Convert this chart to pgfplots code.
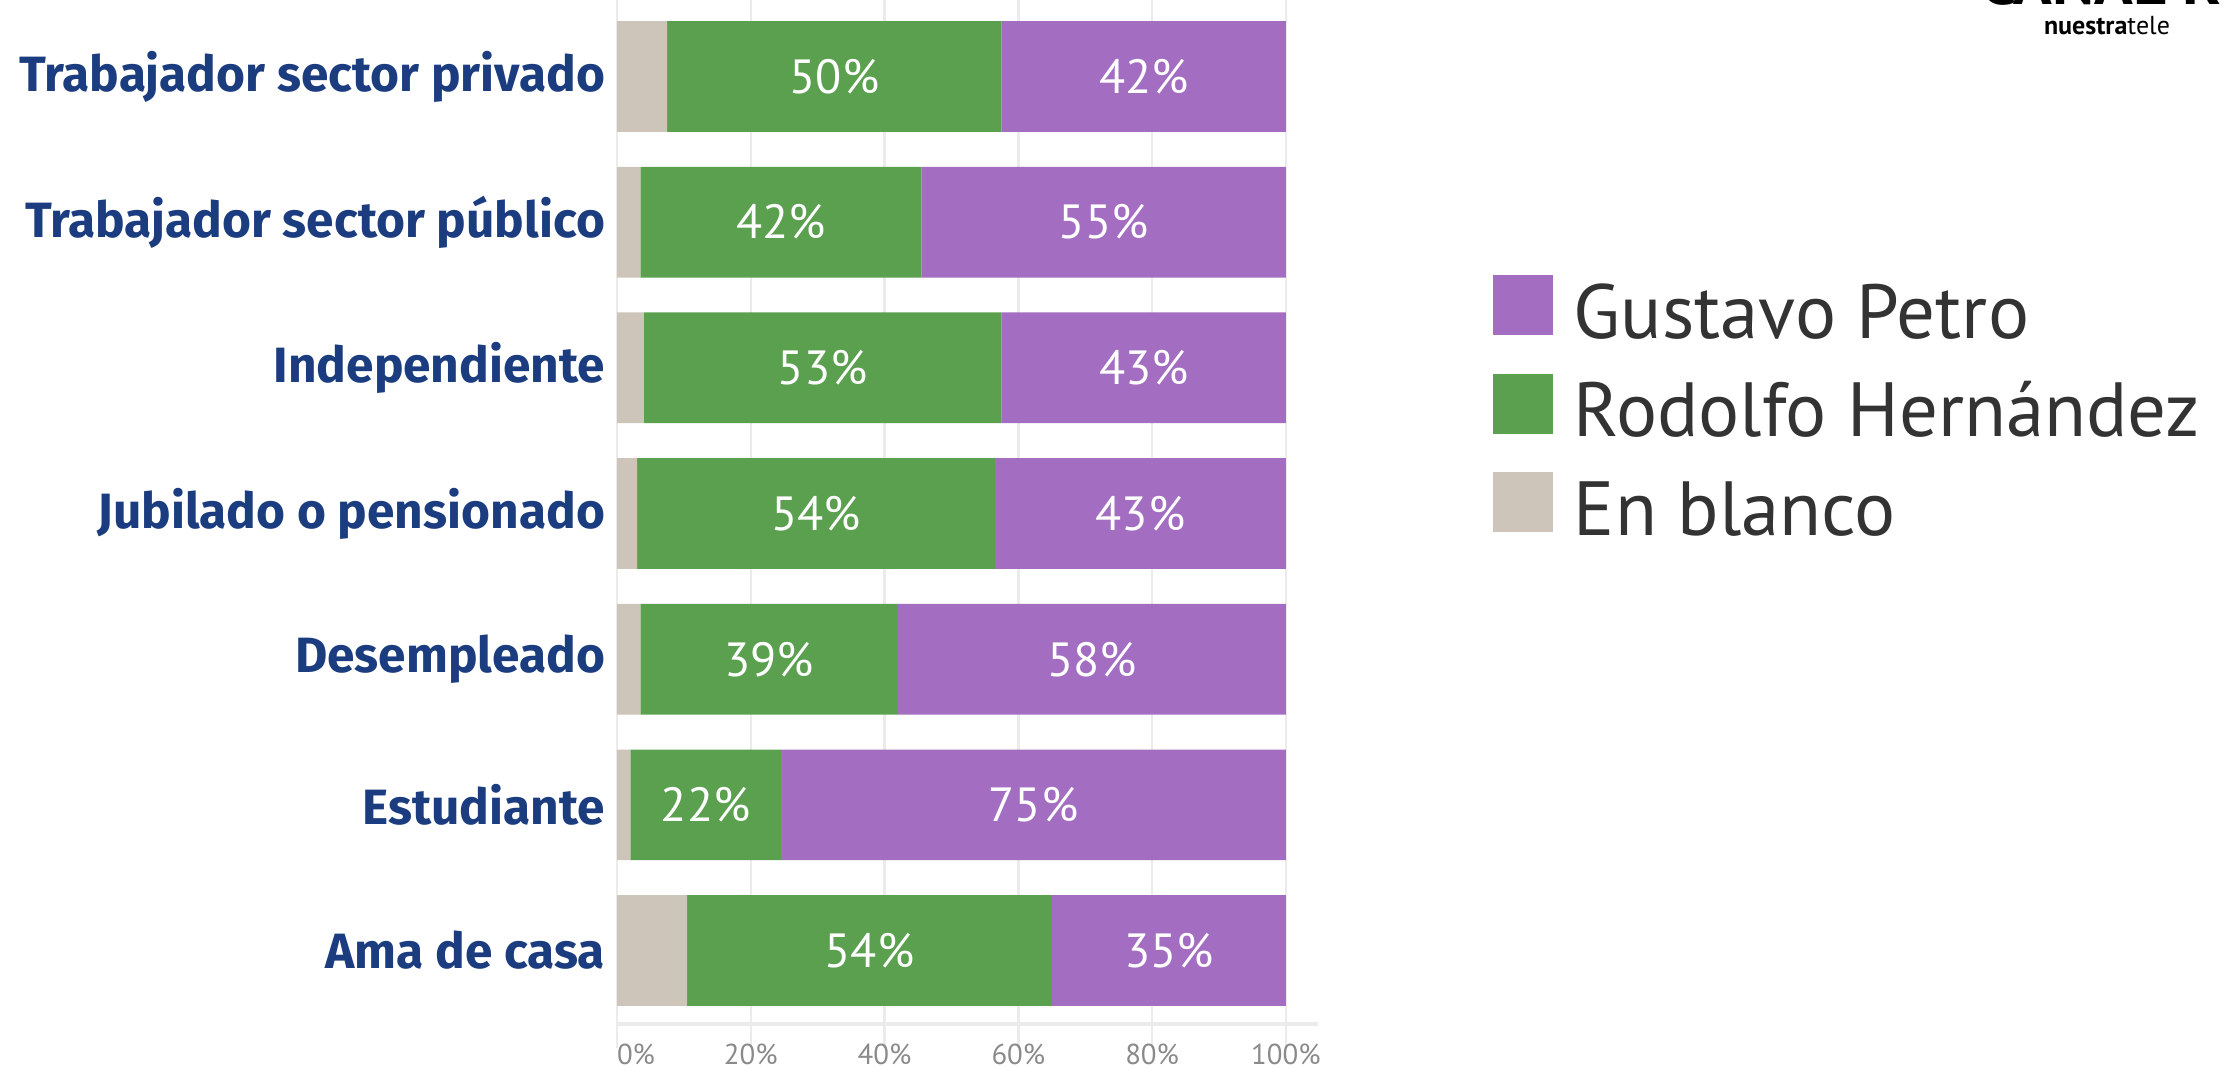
\documentclass[border=0pt]{standalone}
\usepackage{pgfplots}
\pgfplotsset{compat=1.18}
\usepackage{pgfplotstable}
\usepackage{fontspec}
\setmainfont{PT Sans}
\newfontfamily\catfont{Fira Sans}
\definecolor{petro}{HTML}{A36EC1}
\definecolor{rhc}{HTML}{5AA04F}
\definecolor{blankc}{HTML}{CDC5B9}
\definecolor{catblue}{HTML}{1B3D80}
\definecolor{gridc}{HTML}{EBEBEB}
\definecolor{tickc}{HTML}{8A8A8A}

% idx 0 = bottom (Ama de casa), 6 = top
\pgfplotstableread{
idx blank rh gp rhl gpl
0 10.5 54.5 35 54 35
1 2 22.5 75.5 22 75
2 3.5 38.5 58 39 58
3 3 53.5 43.5 54 43
4 4 53.5 42.5 53 43
5 3.5 42 54.5 42 55
6 7.5 50 42.5 50 42
}\data

\pgfplotsset{
  sqlegend/.style={legend image code/.code={\fill[##1] (0pt,-5.8pt) rectangle (15pt,9.2pt);}},
}

\begin{document}
\begin{tikzpicture}
\useasboundingbox (0,0) rectangle (555.75pt,266.75pt);
\begin{scope}
\clip (0,0) rectangle (555.75pt,266.75pt);
\node[anchor=base west, inner sep=0pt, font=\fontsize{16}{16}\selectfont\bfseries] at (495pt,265.5pt) {CANAL RCN};
\end{scope}
\node[anchor=base, inner sep=0pt, font=\fontsize{6.5}{7}\selectfont] at (526.75pt,258pt) {\textbf{nuestra}tele};
\begin{axis}[
  at={(154.25pt,10.75pt)}, anchor=south west,
  scale only axis, width=175.25pt, height=256pt,
  xbar stacked, bar width=0.76,
  xmin=0, xmax=104.8, ymin=-0.504, ymax=6.525,
  /pgf/number format/assume math mode=true,
  xtick={0,20,40,60,80,100},
  xticklabels={\makebox[0pt][l]{0\%},20\%,40\%,60\%,80\%,100\%},
  ytick={0,1,2,3,4,5,6},
  yticklabels={Ama de casa,Estudiante,Desempleado,Jubilado o pensionado,Independiente,Trabajador sector público,Trabajador sector privado},
  xmajorgrids, grid style={gridc, line width=0.6pt},
  axis x line*=bottom, axis y line*=left,
  x axis line style={gridc, line width=0.8pt, -},
  y axis line style={draw=none},
  tick align=outside,
  major tick length=6pt,
  xtick style={gridc, line width=0.6pt},
  ytick style={draw=none},
  xticklabel style={font=\fontsize{7.2}{8}\selectfont, text=tickc, inner sep=0pt, yshift=1.2pt},
  yticklabel style={font=\fontsize{12.4}{14}\selectfont\catfont\bfseries, text=catblue, inner sep=0pt, xshift=3.2pt},
  legend style={draw=none, fill=none, inner sep=0pt, outer sep=0pt,
    at={(rel axis cs:1.2496,0.7314)}, anchor=north west,
    row sep=7pt, column sep=5.25pt,
    nodes={inner sep=0pt, text height=15pt, text depth=1.9pt, font=\fontsize{19.2}{21}\selectfont, text=black!80}},
  legend cell align=left,
  reverse legend,
]
\addplot[fill=blankc, draw=none, sqlegend] table[x=blank, y=idx] {\data};
\addlegendentry{En blanco}
\addplot[fill=rhc, draw=none, sqlegend,
  point meta=explicit,
  nodes near coords={\pgfmathprintnumber{\pgfplotspointmeta}\%},
  every node near coord/.append style={anchor=center, text=white, font=\fontsize{12}{14}\selectfont},
] table[x=rh, y=idx, meta=rhl] {\data};
\addlegendentry{Rodolfo Hernández}
\addplot[fill=petro, draw=none, sqlegend,
  point meta=explicit,
  nodes near coords={\pgfmathprintnumber{\pgfplotspointmeta}\%},
  every node near coord/.append style={anchor=center, text=white, font=\fontsize{12}{14}\selectfont},
] table[x=gp, y=idx, meta=gpl] {\data};
\addlegendentry{Gustavo Petro}
\end{axis}
\end{tikzpicture}
\end{document}
